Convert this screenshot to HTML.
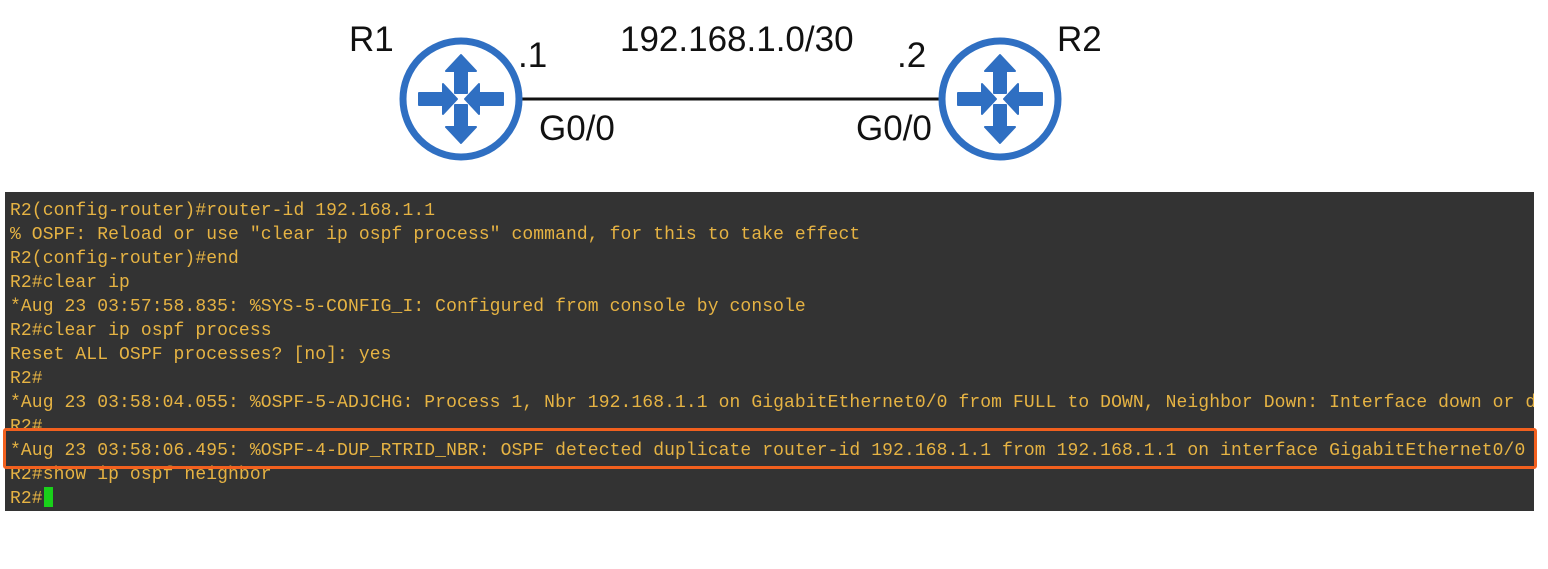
<!DOCTYPE html>
<html><head><meta charset="utf-8"><style>
body{margin:0;width:1548px;height:569px;background:#fff;position:relative;overflow:hidden;font-family:"Liberation Sans",sans-serif}
.l{position:absolute;font-size:35px;color:#111;line-height:1}
#term{position:absolute;left:5px;top:192px;width:1529px;height:319px;background:#333333;overflow:hidden}
#term pre{margin:0;position:absolute;left:5px;top:7px;font-family:"Liberation Mono",monospace;font-size:18px;letter-spacing:0.1px;line-height:24px;color:#e6b343;white-space:pre}
#box{position:absolute;left:3px;top:428px;width:1528px;height:35px;border:3px solid #f2601e;border-radius:3px}
#cur{position:absolute;left:44px;top:487px;width:9px;height:20px;background:#19d11a}
</style></head><body>
<svg width="1548" height="190" style="position:absolute;left:0;top:0">
<defs>
<g id="rt">
<circle r="58" fill="#fff" stroke="#2f6fc2" stroke-width="7"/>
<g fill="#2f6fc2" stroke="#2f6fc2" stroke-width="2" stroke-linejoin="round">
<rect x="-6" y="-28" width="12" height="22"/><polygon points="-15,-28 15,-28 0,-44"/>
<rect x="-6" y="6" width="12" height="22"/><polygon points="-15,28 15,28 0,44"/>
<rect x="-42" y="-6" width="24" height="12"/><polygon points="-18,-15 -18,15 -4,0"/>
<rect x="18" y="-6" width="24" height="12"/><polygon points="18,-15 18,15 4,0"/>
</g></g></defs>
<line x1="520" y1="99" x2="942" y2="99" stroke="#111" stroke-width="3"/>
<use href="#rt" x="461" y="99"/>
<use href="#rt" x="1000" y="99"/>
</svg>
<div class="l" style="left:349px;top:22px">R1</div>
<div class="l" style="left:518px;top:38px">.1</div>
<div class="l" style="left:620px;top:22px">192.168.1.0/30</div>
<div class="l" style="left:897px;top:38px">.2</div>
<div class="l" style="left:1057px;top:22px">R2</div>
<div class="l" style="left:539px;top:111px">G0/0</div>
<div class="l" style="left:856px;top:111px">G0/0</div>
<div id="term"><pre>R2(config-router)#router-id 192.168.1.1
% OSPF: Reload or use "clear ip ospf process" command, for this to take effect
R2(config-router)#end
R2#clear ip
*Aug 23 03:57:58.835: %SYS-5-CONFIG_I: Configured from console by console
R2#clear ip ospf process
Reset ALL OSPF processes? [no]: yes
R2#
*Aug 23 03:58:04.055: %OSPF-5-ADJCHG: Process 1, Nbr 192.168.1.1 on GigabitEthernet0/0 from FULL to DOWN, Neighbor Down: Interface down or detached
R2#
*Aug 23 03:58:06.495: %OSPF-4-DUP_RTRID_NBR: OSPF detected duplicate router-id 192.168.1.1 from 192.168.1.1 on interface GigabitEthernet0/0
R2#show ip ospf neighbor
R2#</pre></div>
<div id="box"></div>
<div id="cur"></div>
</body></html>
